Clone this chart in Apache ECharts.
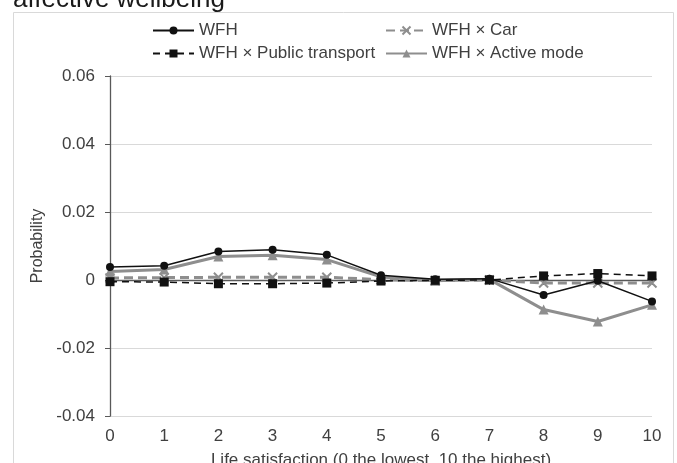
<!DOCTYPE html>
<html>
<head>
<meta charset="utf-8">
<script src="https://cdn.jsdelivr.net/npm/echarts@6/dist/echarts.min.js"></script>
<style>
html,body{margin:0;padding:0;background:#fff;}
#c{width:677px;height:463px;}
</style>
</head>
<body>
<div id="c"></div>
<script>
var categories = ['0','1','2','3','4','5','6','7','8','9','10'];
var wfh = [0.0038, 0.0042, 0.0084, 0.0089, 0.0074, 0.0014, 0.0002, 0.0004, -0.0044, -0.0002, -0.0063];
var wfhCar = [0.0006, 0.0007, 0.0008, 0.0008, 0.0008, 0.0001, -0.0002, 0.0000, -0.0009, -0.0009, -0.0009];
var wfhPT = [-0.0005, -0.0006, -0.0011, -0.0011, -0.0009, -0.0003, -0.0001, 0.0000, 0.0012, 0.0019, 0.0012];
var wfhActive = [0.0025, 0.0031, 0.0069, 0.0073, 0.0060, 0.0009, -0.0002, 0.0002, -0.0087, -0.0122, -0.0073];
var yTicks = [-0.04, -0.02, 0, 0.02, 0.04, 0.06];

var FONT = 'Liberation Sans, Arial, sans-serif';
var TXT = '#404040';
var GRAY = '#8e8e8e';
var xPath = 'path://M0,0L10,10M10,0L0,10';

var chart = echarts.init(document.getElementById('c'), null, {renderer: 'canvas'});

function leg(name, left, top) {
  return {
    data: [name], left: left, top: top, padding: 0,
    itemWidth: 41, itemHeight: 10, itemGap: 0,
    textStyle: {fontFamily: FONT, fontSize: 17, color: TXT},
    selectedMode: false
  };
}

var option = {
  backgroundColor: '#fff',
  animation: false,
  title: {
    text: 'affective wellbeing', left: 13, top: -13, padding: 0,
    textStyle: {fontFamily: FONT, fontSize: 26, fontWeight: 'normal', color: '#1a1a1a'}
  },
  graphic: [{
    type: 'rect', silent: true, z: -1,
    shape: {x: 13.5, y: 12.5, width: 660, height: 470},
    style: {fill: 'none', stroke: '#d9d9d9', lineWidth: 1}
  }],
  legend: [
    leg('WFH', 152, 22),
    leg('WFH × Car', 385, 22),
    leg('WFH × Public transport', 152, 45),
    leg('WFH × Active mode', 385, 45)
  ],
  grid: {left: 110, right: 25, top: 76, bottom: 47, outerBoundsMode: 'none', containLabel: false},
  xAxis: {
    type: 'category', data: categories, boundaryGap: false,
    name: 'Life satisfaction (0 the lowest, 10 the highest)',
    nameLocation: 'middle', nameGap: 36,
    nameTextStyle: {fontFamily: FONT, fontSize: 17, color: TXT},
    axisLine: {lineStyle: {color: '#595959', width: 1.3}},
    axisTick: {show: true, alignWithLabel: true, length: 5, lineStyle: {color: '#595959'}},
    axisLabel: {fontFamily: FONT, fontSize: 17, color: TXT, margin: 12},
    splitLine: {show: false}
  },
  yAxis: {
    type: 'value', min: -0.04, max: 0.06, interval: 0.02,
    name: 'Probability', nameLocation: 'middle', nameGap: 58, nameRotate: 90,
    nameTextStyle: {fontFamily: FONT, fontSize: 16, color: TXT},
    axisLine: {show: true, lineStyle: {color: '#595959', width: 1.3}},
    axisTick: {show: true, length: 5, lineStyle: {color: '#595959'}},
    axisLabel: {
      fontFamily: FONT, fontSize: 17, color: TXT, margin: 15,
      formatter: function (v) { return Math.abs(v) < 1e-9 ? '0' : v.toFixed(2); }
    },
    splitLine: {show: true, lineStyle: {color: '#d9d9d9', width: 1}}
  },
  series: [
    {
      name: 'WFH × Active mode', type: 'line', data: wfhActive,
      symbol: 'triangle', symbolSize: 10,
      lineStyle: {color: GRAY, width: 3},
      itemStyle: {color: GRAY}, z: 2
    },
    {
      name: 'WFH × Car', type: 'line', data: wfhCar,
      symbol: xPath, symbolSize: 9,
      lineStyle: {color: GRAY, width: 3, type: [9, 5]},
      itemStyle: {color: GRAY, borderColor: GRAY, borderWidth: 2}, z: 3
    },
    {
      name: 'WFH × Public transport', type: 'line', data: wfhPT,
      symbol: 'rect', symbolSize: 9,
      lineStyle: {color: '#111', width: 1.5, type: [7, 5]},
      itemStyle: {color: '#111'}, z: 4
    },
    {
      name: 'WFH', type: 'line', data: wfh,
      symbol: 'circle', symbolSize: 8,
      lineStyle: {color: '#111', width: 1.5},
      itemStyle: {color: '#111'}, z: 5
    }
  ]
};
chart.setOption(option);
</script>
</body>
</html>
